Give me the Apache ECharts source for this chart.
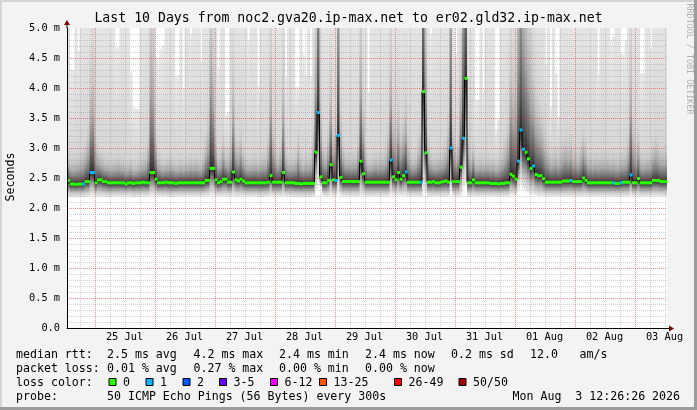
<!DOCTYPE html>
<html><head><meta charset="utf-8">
<script src="https://cdn.jsdelivr.net/npm/echarts@6/dist/echarts.min.js"></script>
<style>html,body{margin:0;padding:0;background:#f3f3f3}#c{width:697px;height:410px}</style>
</head><body><div id="c"></div>
<script>
// ---- data (x = hours since 24 Jul 12:00, one value per hour starting at 13:00) ----
const titleText = 'Last 10 Days from noc2.gva20.ip-max.net to er02.gld32.ip-max.net';
const dayLabels = ['25 Jul','26 Jul','27 Jul','28 Jul','29 Jul','30 Jul','31 Jul','01 Aug','02 Aug','03 Aug'];
const median = [
2.46,2.40,2.40,2.39,2.40,2.40,2.40,2.44,2.44,2.59,2.59,2.42,2.47,2.47,2.44,2.44,2.42,2.42,2.42,2.42,2.42,2.42,2.42,2.40,
2.42,2.42,2.41,2.42,2.42,2.42,2.43,2.42,2.42,2.59,2.59,2.48,2.42,2.42,2.42,2.43,2.42,2.42,2.42,2.41,2.42,2.42,2.42,2.42,
2.42,2.42,2.42,2.42,2.42,2.42,2.42,2.46,2.46,2.66,2.66,2.47,2.42,2.44,2.48,2.48,2.43,2.43,2.60,2.47,2.45,2.48,2.45,2.42,
2.42,2.42,2.42,2.42,2.42,2.42,2.42,2.42,2.43,2.54,2.43,2.43,2.43,2.43,2.59,2.42,2.42,2.42,2.42,2.41,2.41,2.40,2.41,2.41,
2.41,2.41,2.41,2.93,3.59,2.52,2.42,2.42,2.46,2.72,2.47,2.46,3.21,2.51,2.44,2.44,2.44,2.44,2.44,2.44,2.44,2.78,2.57,2.43,
2.43,2.43,2.43,2.43,2.43,2.43,2.43,2.43,2.43,2.80,2.52,2.47,2.59,2.48,2.54,2.60,2.43,2.43,2.43,2.43,2.43,2.43,3.94,2.92,
2.43,2.43,2.44,2.42,2.42,2.43,2.44,2.45,2.43,3.00,2.44,2.44,2.44,2.68,3.16,4.16,2.42,2.42,2.47,2.42,2.42,2.42,2.42,2.42,
2.42,2.41,2.41,2.41,2.40,2.41,2.41,2.42,2.42,2.56,2.53,2.48,2.78,3.30,2.98,2.93,2.82,2.66,2.70,2.56,2.54,2.54,2.49,2.43,
2.43,2.43,2.43,2.43,2.43,2.43,2.45,2.45,2.45,2.46,2.44,2.44,2.44,2.44,2.50,2.46,2.42,2.42,2.42,2.42,2.42,2.42,2.42,2.42,
2.42,2.42,2.42,2.41,2.41,2.42,2.43,2.43,2.43,2.55,2.42,2.42,2.49,2.42,2.42,2.42,2.42,2.42,2.46,2.46,2.46,2.44,2.44,2.44];
const pingMin = [
2.18,2.18,2.18,2.18,2.18,2.18,2.18,2.18,2.19,2.20,2.20,2.19,2.19,2.19,2.19,2.18,2.18,2.18,2.19,2.19,2.19,2.19,2.19,2.19,
2.19,2.19,2.18,2.18,2.18,2.19,2.19,2.19,2.19,2.20,2.20,2.19,2.19,2.19,2.19,2.19,2.18,2.18,2.18,2.19,2.19,2.19,2.19,2.19,
2.19,2.19,2.19,2.19,2.19,2.19,2.19,2.19,2.20,2.21,2.20,2.19,2.19,2.19,2.19,2.19,2.19,2.19,2.20,2.19,2.19,2.19,2.19,2.19,
2.19,2.19,2.19,2.19,2.18,2.18,2.18,2.19,2.19,2.20,2.19,2.19,2.19,2.19,2.20,2.19,2.19,2.19,2.18,2.18,2.18,2.18,2.18,2.18,
2.18,2.18,2.19,2.30,2.42,2.35,2.20,2.19,2.19,2.21,2.19,2.20,2.26,2.20,2.19,2.19,2.19,2.19,2.19,2.19,2.19,2.21,2.20,2.19,
2.19,2.19,2.19,2.19,2.19,2.19,2.19,2.19,2.19,2.22,2.20,2.20,2.20,2.20,2.20,2.20,2.19,2.19,2.19,2.19,2.19,2.19,2.30,2.25,
2.19,2.19,2.19,2.19,2.19,2.19,2.19,2.19,2.19,2.28,2.20,2.19,2.19,2.21,2.35,2.45,2.19,2.19,2.19,2.19,2.19,2.19,2.19,2.19,
2.19,2.19,2.19,2.19,2.19,2.19,2.19,2.19,2.19,2.22,2.21,2.21,2.30,2.38,2.32,2.28,2.25,2.22,2.22,2.21,2.20,2.20,2.20,2.19,
2.19,2.19,2.19,2.19,2.19,2.19,2.19,2.19,2.19,2.19,2.19,2.19,2.19,2.19,2.19,2.19,2.19,2.19,2.19,2.19,2.19,2.19,2.19,2.19,
2.19,2.19,2.19,2.19,2.19,2.19,2.19,2.19,2.19,2.21,2.19,2.19,2.19,2.19,2.19,2.19,2.19,2.19,2.19,2.19,2.19,2.19,2.19,2.19];
const pingP90 = [
3.0,2.9,2.9,2.95,2.95,3.0,3.05,3.2,3.4,4.6,4.8,3.3,3.1,3.0,2.95,2.9,2.9,2.85,2.9,2.9,2.95,2.9,2.9,2.85,
2.85,2.9,2.8,2.8,2.85,2.9,2.95,3.0,3.3,5.8,5.5,3.4,3.0,2.9,2.85,2.9,2.9,2.95,2.9,2.85,2.85,2.9,2.85,2.9,
2.9,2.95,2.9,2.95,2.9,2.85,3.0,3.3,3.6,6.0,5.2,3.4,3.0,3.05,3.3,3.0,3.0,3.3,4.6,3.3,3.2,3.4,3.1,2.95,
2.9,2.9,2.95,2.95,2.9,2.95,3.0,3.0,3.3,5.0,3.6,3.1,3.0,3.2,4.6,3.1,2.95,2.9,2.95,3.0,3.3,3.0,2.9,2.95,
2.95,3.0,3.4,5.5,9.0,4.0,3.2,3.1,3.4,4.5,3.5,3.6,8.0,3.8,3.2,3.0,3.0,2.95,3.0,3.0,3.3,5.5,4.0,3.1,
2.9,2.9,2.95,3.0,2.95,3.0,3.0,3.1,3.5,5.0,3.8,3.5,3.9,3.4,3.6,4.0,3.3,3.0,2.95,3.0,3.2,3.6,10.0,5.5,
3.3,3.0,2.95,2.95,3.0,3.0,3.05,3.2,3.6,8.0,3.6,3.1,3.3,4.8,8.5,10.0,3.5,3.0,3.2,2.9,2.9,2.95,2.9,2.95,
2.95,2.9,2.95,2.85,2.9,3.0,3.1,3.3,3.6,5.0,4.6,4.5,7.0,9.0,7.5,6.5,5.8,5.0,4.8,4.2,4.0,3.8,3.6,3.3,
3.2,3.0,3.05,3.1,3.0,3.1,3.2,3.3,3.2,3.3,3.1,3.1,3.0,3.2,3.4,3.2,3.0,3.0,2.95,3.0,2.95,3.0,3.0,3.0,
3.0,2.95,3.0,2.95,2.95,3.0,3.0,3.05,3.3,5.0,3.6,3.2,3.4,3.0,2.95,3.0,3.0,3.05,3.2,3.3,3.2,3.1,3.1,3.1];
const pingMax = [
5.6,4.3,4.3,5.6,4.62,5.6,5.6,5.6,5.6,5.6,5.6,5.6,5.6,5.6,5.6,5.6,5.6,5.6,5.6,4.68,4.68,5.6,5.6,5.6,
5.6,4.27,3.67,3.65,3.65,5.6,5.6,5.6,5.6,5.6,5.6,4.5,4.46,4.65,4.7,5.6,5.6,5.6,5.6,4.2,4.22,5.6,3.98,5.6,
5.6,4.9,5.6,5.6,5.6,4.44,5.6,5.6,5.6,5.6,5.6,5.6,4.35,5.6,5.6,3.55,3.6,5.6,5.6,5.6,5.6,5.6,5.6,5.6,
4.8,5.6,5.6,5.6,4.05,5.6,5.6,5.6,5.6,5.6,5.6,5.6,5.6,5.6,5.6,4.19,5.6,5.6,5.6,4.02,4.02,5.6,4.57,4.22,
5.6,4.2,5.6,5.6,5.6,5.6,5.6,5.6,5.6,5.6,5.6,5.6,5.6,5.6,5.6,5.6,5.6,5.6,5.6,5.6,5.6,5.6,5.6,5.6,
3.93,5.6,5.6,5.6,5.6,5.6,5.6,5.6,5.6,5.6,5.6,5.6,5.6,5.6,5.6,5.6,5.6,5.6,5.6,5.6,5.6,5.6,5.6,5.6,
5.6,4.9,5.6,5.6,5.6,5.6,5.6,5.6,5.6,5.6,5.6,4.58,5.6,5.6,5.6,5.6,5.6,5.6,5.6,3.8,3.8,5.6,3.97,5.6,
5.6,5.6,5.6,3.3,3.47,5.6,5.6,5.6,5.6,5.6,5.6,5.6,5.6,5.6,5.6,5.6,5.6,5.6,5.6,5.6,5.6,5.6,5.6,4.38,
5.6,3.68,5.6,4.25,3.52,5.6,5.6,5.6,5.6,5.6,5.6,5.6,5.6,5.6,5.6,5.6,5.6,5.6,5.6,5.6,4.25,5.6,5.6,5.6,
5.6,4.8,4.85,5.6,5.6,4.58,4.55,4.8,5.6,5.6,5.6,5.6,5.6,4.25,4.25,5.6,5.6,4.65,5.6,5.6,5.6,5.6,5.6,5.6];
const lossSteps = [6,9,10,100,107,108,129,135,141,153,158,180,181,182,186,201,218,221,225];
const lossLabels = ['0','1','2','3-5','6-12','13-25','26-49','50/50'];
const lossColors = ['#26ff00','#00b8ff','#0059ff','#6a00ff','#ff00ff','#ff5500','#ff0000','#a00000'];
const rttValues = [2.5, 4.2, 2.4, 2.4, 0.2];
const rttNames = ['avg','max','min','now','sd'];
const amsValue = 12.0;
const lossValues = [0.01, 0.27, 0.00, 0.00];
const lossNames = ['avg','max','min','now'];
const probeText = '50 ICMP Echo Pings (56 Bytes) every 300s';
const dateText = 'Mon Aug  3 12:26:26 2026';

// ---- build ----
const FONT = 'DejaVu Sans Mono';
const X0 = 1, X1 = 241;           // axis range in hours since 24 Jul 12:00
const lossIdx = median.map((_, i) => lossSteps.indexOf(i) >= 0 ? 1 : 0);
const smokeData = median.map((m, i) => [X0 + i, pingMin[i], m, pingP90[i], pingMax[i]]);
const lineData = median.map((m, i) => [X0 + i + 0.5, m]);
const segData = median.map((m, i) => [X0 + i, m, lossIdx[i]]);
const gridData = [];
for (let h = 6; h < X1; h += 6) gridData.push([0, h, (h - 12) % 24 === 0 ? 1 : 0]);
for (let k = 1; k < 50; k++) gridData.push([1, k / 10, k % 5 === 0 ? 1 : 0]);
const labelData = dayLabels.map((d, k) => [24 * (k + 1), 0, k]);
const G = echarts.graphic;

function renderSmoke(params, api) {
  const i = api.value(0), lo = api.value(1), m = api.value(2), p = api.value(3), hi = api.value(4);
  const cs = params.coordSys;
  const xa = api.coord([i, 0])[0], xb = api.coord([i + 1, 0])[0];
  const yLo = api.coord([i, lo])[1], yM = api.coord([i, m])[1], yP = api.coord([i, p])[1], yHi = api.coord([i, hi])[1];
  const top = cs.y, bot = cs.y + cs.height;
  const cl = v => Math.max(top, Math.min(bot, v));
  const w = Math.min(xb - xa + 0.6, cs.x + cs.width - xa);
  const kids = [];
  function band(yBottom, yTop, grad) {
    const a = cl(yTop), b = cl(yBottom);
    if (b - a <= 0) return;
    kids.push({type: 'rect', shape: {x: xa, y: a, width: w, height: b - a}, style: {fill: grad}});
  }
  if (hi > p) band(yP, yHi, new G.LinearGradient(0, yP, 0, yHi, [{offset: 0, color: '#d6d6d6'}, {offset: 1, color: '#e9e9e9'}], true));
  band(yM, Math.max(yP, yHi), new G.LinearGradient(0, yM, 0, yP, [
    {offset: 0, color: '#2e2e2e'}, {offset: 0.1, color: '#555555'}, {offset: 0.22, color: '#777777'},
    {offset: 0.42, color: '#a8a8a8'}, {offset: 0.7, color: '#c8c8c8'}, {offset: 1, color: '#d6d6d6'}], true));
  band(yLo, yM, new G.LinearGradient(0, yM, 0, yLo, [
    {offset: 0, color: '#2e2e2e'}, {offset: 0.12, color: '#454545'}, {offset: 0.25, color: '#666666'},
    {offset: 0.45, color: '#9a9a9a'}, {offset: 0.7, color: '#c8c8c8'}, {offset: 1, color: '#ededed'}], true));
  return {type: 'group', children: kids};
}
function renderSeg(params, api) {
  const i = api.value(0), m = api.value(1), L = api.value(2);
  const p0 = api.coord([i, m]), p1 = api.coord([i + 1, m]);
  return {type: 'rect', shape: {x: p0[0], y: p0[1] - 1.5, width: p1[0] - p0[0] + 0.5, height: 3}, style: {fill: lossColors[L]}};
}
const RED = 'rgba(245,20,20,0.5)', GREY = 'rgba(110,110,110,0.3)';
function renderGrid(params, api) {
  const o = api.value(0), v = api.value(1), major = api.value(2);
  const cs = params.coordSys;
  const style = {stroke: major ? RED : GREY, lineWidth: 1, lineDash: [1, 1]};
  if (o === 0) {
    const x = Math.round(api.coord([v, 0])[0]) + 0.5;
    return {type: 'line', shape: {x1: x, y1: cs.y, x2: x, y2: cs.y + cs.height}, style: style};
  }
  const y = Math.round(api.coord([X0, v])[1]) + 0.5;
  return {type: 'line', shape: {x1: cs.x, y1: y, x2: cs.x + cs.width, y2: y}, style: style};
}
function renderDate(params, api) {
  const p = api.coord([api.value(0), api.value(1)]);
  return {type: 'text', x: p[0], y: p[1] + 9.5,
    style: {text: dayLabels[api.value(2)], fill: '#000', font: '10.3px "' + FONT + '"', align: 'center', verticalAlign: 'middle'}};
}

const txt = (x, y, s) => ({type: 'text', x: x, y: y, z: 50,
  style: {text: s, fill: '#000', font: '11.6px "' + FONT + '"', verticalAlign: 'middle'}});

const graphics = [];
graphics.push({type: 'rect', shape: {x: 0, y: 0, width: 697, height: 2}, style: {fill: '#d4d4d4'}, silent: true});
graphics.push({type: 'rect', shape: {x: 0, y: 0, width: 2, height: 410}, style: {fill: '#d4d4d4'}, silent: true});
graphics.push({type: 'rect', shape: {x: 0, y: 407, width: 697, height: 3}, style: {fill: '#9c9c9c'}, silent: true});
graphics.push({type: 'rect', shape: {x: 694, y: 0, width: 3, height: 410}, style: {fill: '#9c9c9c'}, silent: true});
graphics.push({type: 'text', x: 348.5, y: 19, z: 50, style: {text: titleText, fill: '#000', font: '13.2px "' + FONT + '"', align: 'center', verticalAlign: 'middle'}});
graphics.push({type: 'text', x: 10.5, y: 177, rotation: Math.PI / 2, z: 50, style: {text: 'Seconds', fill: '#000', font: '11.6px "' + FONT + '"', align: 'center', verticalAlign: 'middle'}});
graphics.push({type: 'text', x: 689.5, y: 59, rotation: -Math.PI / 2, z: 50, style: {text: 'RRDTOOL / TOBI OETIKER', fill: '#b0b0b0', font: '8.4px "' + FONT + '"', align: 'center', verticalAlign: 'middle'}});
graphics.push({type: 'line', shape: {x1: 67, y1: 28, x2: 67, y2: 24}, style: {stroke: '#000', lineWidth: 1}, z: 40});
graphics.push({type: 'polygon', shape: {points: [[64, 25], [70, 25], [67, 20]]}, style: {fill: '#7f0000'}, z: 41});
graphics.push({type: 'line', shape: {x1: 667, y1: 328.5, x2: 670, y2: 328.5}, style: {stroke: '#000', lineWidth: 1}, z: 40});
graphics.push({type: 'polygon', shape: {points: [[669, 325.5], [669, 331.5], [674, 328.5]]}, style: {fill: '#7f0000'}, z: 41});

const colX = [107, 193.5, 279, 365, 451];
const rowY = [354.5, 368.5, 382.5, 396.5];
graphics.push(txt(16, rowY[0], 'median rtt:'));
rttValues.forEach((v, k) => graphics.push(txt(colX[k], rowY[0], v.toFixed(1) + ' ms ' + rttNames[k])));
graphics.push(txt(530, rowY[0], amsValue.toFixed(1)));
graphics.push(txt(579.5, rowY[0], 'am/s'));
graphics.push(txt(16, rowY[1], 'packet loss:'));
lossValues.forEach((v, k) => graphics.push(txt(colX[k], rowY[1], v.toFixed(2) + ' % ' + lossNames[k])));
graphics.push(txt(16, rowY[2], 'loss color:'));
const boxX = [108.5, 145.5, 182.5, 219, 270, 319, 394, 458.5];
lossLabels.forEach((lab, k) => {
  graphics.push({type: 'rect', shape: {x: boxX[k] + 0.5, y: 378.5, width: 7, height: 7}, style: {fill: lossColors[k], stroke: '#000', lineWidth: 1}, z: 50});
  graphics.push(txt(boxX[k] + 14.5, rowY[2], lab));
});
graphics.push(txt(16, rowY[3], 'probe:'));
graphics.push(txt(colX[0], rowY[3], probeText));
graphics.push(txt(512.5, rowY[3], dateText));

const chart = echarts.init(document.getElementById('c'), null, {renderer: 'canvas'});
chart.setOption({
  animation: false,
  backgroundColor: '#f3f3f3',
  grid: {left: 67, top: 28, width: 600, height: 300, show: true, backgroundColor: '#ffffff', borderWidth: 0},
  xAxis: {type: 'value', min: X0, max: X1, z: 6,
    axisLine: {show: true, onZero: false, lineStyle: {color: '#000', width: 1}},
    axisTick: {show: false}, axisLabel: {show: false}, splitLine: {show: false}},
  yAxis: {type: 'value', min: 0, max: 5, interval: 0.5, z: 6,
    axisLine: {show: true, lineStyle: {color: '#000', width: 1}},
    axisTick: {show: false},
    axisLabel: {margin: 7, color: '#000', fontFamily: FONT, fontSize: 10.3,
      formatter: v => v === 0 ? '0.0' : v.toFixed(1) + ' m'},
    splitLine: {show: false}},
  series: [
    {type: 'custom', name: 'smoke', z: 1, renderItem: renderSmoke, data: smokeData, silent: true, encode: {x: 0, y: 2}},
    {type: 'custom', name: 'grid', z: 3, renderItem: renderGrid, data: gridData, silent: true, encode: {x: 1}},
    {type: 'line', name: 'median', z: 4, data: lineData, step: 'middle', symbol: 'none', silent: true,
      lineStyle: {color: '#000', width: 1}},
    {type: 'custom', name: 'loss', z: 5, renderItem: renderSeg, data: segData, silent: true, encode: {x: 0, y: 1}},
    {type: 'custom', name: 'dates', z: 6, renderItem: renderDate, data: labelData, silent: true, clip: false, encode: {x: 0, y: 1}}
  ],
  graphic: graphics
});
</script></body></html>
